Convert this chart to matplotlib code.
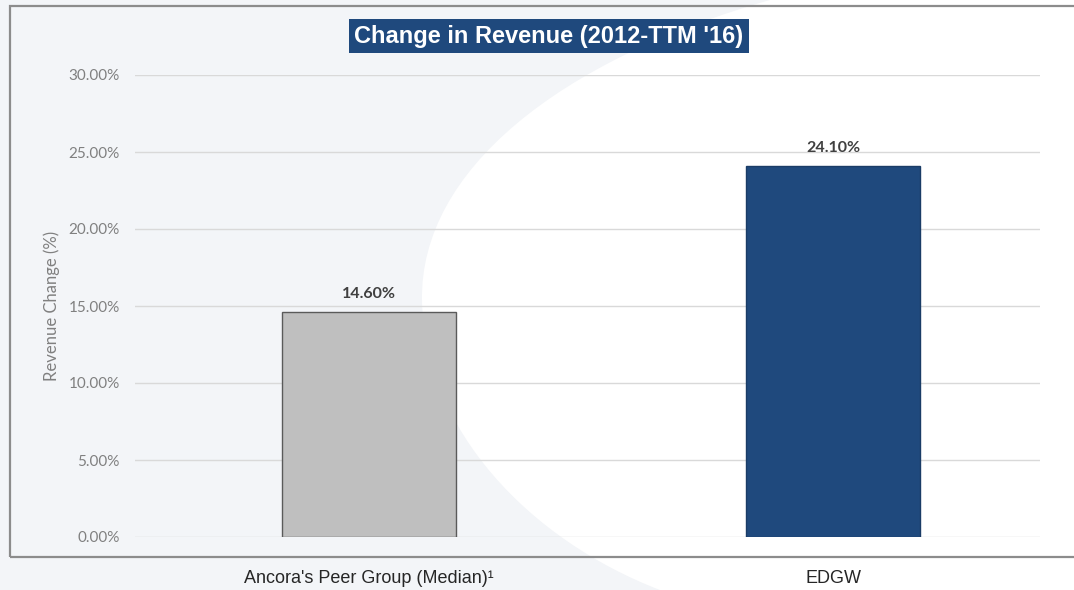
import matplotlib.pyplot as plt
from matplotlib.path import Path
from matplotlib.patches import PathPatch, Rectangle
from matplotlib.ticker import FuncFormatter

categories = ["Ancora's Peer Group (Median)¹", "EDGW"]
revenue_change = [14.60, 24.10]
bar_colors = ["#bfbfbf", "#1f497d"]
edge_colors = ["#5a5a5a", "#1a3c66"]
y_ticks = [0, 5, 10, 15, 20, 25, 30]

W, H = 1074, 590
fig = plt.figure(figsize=(W / 100, H / 100), dpi=100)
fig.patch.set_facecolor("white")


def px(x, y):
    return (x / W, 1 - y / H)


# decorative background swoosh on the left side
verts = [px(0, 0), px(770, 0),
         px(560, 60), px(420, 170), px(422, 300),
         px(424, 430), px(530, 540), px(660, 590),
         px(0, 590), px(0, 0)]
codes = [Path.MOVETO, Path.LINETO,
         Path.CURVE4, Path.CURVE4, Path.CURVE4,
         Path.CURVE4, Path.CURVE4, Path.CURVE4,
         Path.LINETO, Path.CLOSEPOLY]
fig.patches.append(PathPatch(Path(verts, codes), transform=fig.transFigure,
                             facecolor="#f3f5f8", edgecolor="none", zorder=-10))

# frame around the chart
x0, y0 = px(10, 557)
x1, y1 = px(1080, 6)
fig.patches.append(Rectangle((x0, y0), x1 - x0, y1 - y0, transform=fig.transFigure,
                             facecolor="none", edgecolor="#8c8c8c", linewidth=1.6, zorder=-5))

left, right = 135 / W, 1040 / W
bottom, top = 1 - 537 / H, 1 - 75 / H
ax = fig.add_axes([left, bottom, right - left, top - bottom])
ax.set_facecolor("none")

x = list(range(len(categories)))
bars = ax.bar(x, revenue_change, width=0.375, color=bar_colors,
              edgecolor=edge_colors, linewidth=1.0, zorder=3)

for bar, val in zip(bars, revenue_change):
    ax.text(bar.get_x() + bar.get_width() / 2, val + 0.7, f"{val:.2f}%",
            ha="center", va="bottom", fontsize=11.5, fontweight="bold",
            color="#404040", family="Lato")

ax.set_xlim(-0.504, 1.446)
ax.set_ylim(0, 30)
ax.set_yticks(y_ticks)
ax.yaxis.set_major_formatter(FuncFormatter(lambda v, p: f"{v:.2f}%"))
ax.grid(axis="y", color="#d9d9d9", linewidth=1.0, zorder=0)
for s in ax.spines.values():
    s.set_visible(False)
ax.tick_params(axis="y", length=0, pad=11, labelsize=11, labelcolor="#808080")
for lab in ax.get_yticklabels():
    lab.set_family("Lato")

ax.set_xticks(x)
ax.set_xticklabels(categories, fontsize=13, color="#262626", family="Liberation Sans")
ax.tick_params(axis="x", length=0, pad=24)

ax.set_ylabel("Revenue Change (%)", fontsize=12, color="#808080", family="Lato", labelpad=6)

fig.text(549 / W, 1 - 36 / H, "Change in Revenue (2012-TTM '16)", ha="center", va="center",
         fontsize=17, fontweight="bold", color="white", family="Liberation Sans",
         bbox=dict(boxstyle="square,pad=0.22", facecolor="#1f497d", edgecolor="none"))

fig.savefig("out.png", dpi=100)
